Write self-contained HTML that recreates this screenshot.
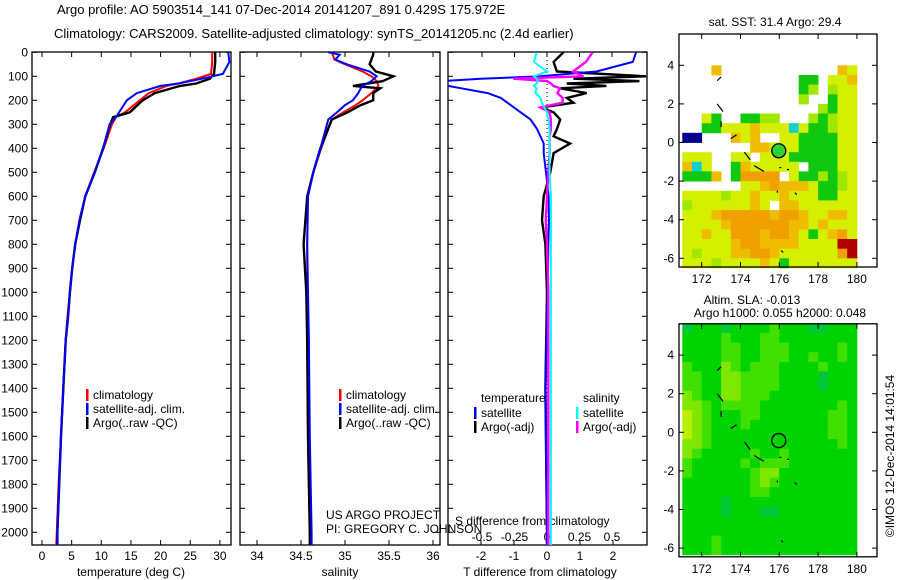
<!DOCTYPE html>
<html><head><meta charset="utf-8"><style>
body{margin:0;background:#fff}
svg{display:block;font-family:"Liberation Sans",sans-serif;font-size:12px}
</style></head><body>
<svg id="s" width="900" height="580" xmlns="http://www.w3.org/2000/svg">
<defs>
<clipPath id="c1"><rect x="32" y="52" width="199" height="493"/></clipPath>
<clipPath id="c2"><rect x="240" y="52" width="200" height="493"/></clipPath>
<clipPath id="c3"><rect x="448" y="52" width="199" height="493"/></clipPath>
</defs>
<text x="57" y="14" font-size="13">Argo profile: AO 5903514_141 07-Dec-2014 20141207_891 0.429S 175.972E</text>
<text x="54" y="38" font-size="13">Climatology: CARS2009. Satellite-adjusted climatology: synTS_20141205.nc (2.4d earlier)</text>
<g id="g"></g>
</svg>
<script>
// ---------- data ----------
const tempDepth = [0,40,90,110,130,140,170,200,250,270,300,400,500,600,700,800,900,1000,1100,1200,1400,1600,1800,2000,2056];
const tempArgo  = [29.2,29.2,29.0,28.3,26,23.3,19,17,14.8,12,11.5,10.3,8.9,7.3,6.4,5.6,5.1,4.7,4.4,4.0,3.6,3.2,2.9,2.6,2.6];
const tempClim  = [28.7,28.7,28.5,26,23,21,18,16.5,14,12.5,11.8,10.4,8.8,7.3,6.3,5.6,5.1,4.7,4.3,4.0,3.6,3.2,2.8,2.5,2.4];
const tempSat   = [31.4,31.6,30.5,27,23,20,16,14.3,13,12.5,11.4,10.3,8.9,7.3,6.3,5.6,5.1,4.7,4.4,4.0,3.6,3.2,2.9,2.6,2.6];

const salDepth = [0,10,30,50,80,100,120,140,150,170,200,220,250,280,400,500,600,800,1000,1200,1600,2000,2056];
const salArgo  = [35.32,35.32,35.30,35.28,35.35,35.55,35.43,35.09,35.40,35.32,35.32,35.18,35.03,34.85,34.72,34.64,34.57,34.53,34.56,34.57,34.58,34.6,34.6];
const salClim  = [34.85,34.86,34.88,35.0,35.2,35.3,35.36,35.38,35.36,35.3,35.2,35.12,34.98,34.85,34.73,34.64,34.58,34.57,34.57,34.57,34.58,34.6,34.62];
const salSat   = [34.81,34.94,34.89,35.02,35.28,35.36,35.3,35.2,35.18,35.15,35.09,35.0,34.91,34.81,34.72,34.64,34.58,34.57,34.58,34.59,34.6,34.62,34.62];

const dDepth = [0,40,80,100,110,120,130,140,150,170,190,210,230,250,280,320,350,380,420,500,600,700,800,1000,1400,2000,2056];
const dTSat  = [2.7,2.6,1.5,-0.2,-2.0,-3.2,-3.2,-3.0,-2.6,-1.8,-1.4,-1.2,-1.0,-0.8,-0.5,-0.3,-0.2,-0.1,-0.1,-0.03,0.05,0.06,0.04,0.02,-0.05,0,0];
const dTArgo = [0.5,0.2,0.3,3.0,0.8,2.8,0.6,1.8,0.4,1.2,0.6,0.8,-0.2,0.2,0.4,0.3,0.2,0.7,0.2,0.1,-0.1,-0.15,-0.05,0,-0.05,0,0];
const dSSat  = [-0.08,-0.1,0.0,-0.1,-0.08,-0.07,-0.08,-0.1,-0.08,-0.09,-0.05,-0.04,-0.02,0,0.01,0.02,0.02,0.02,0.02,0.02,0.03,0.03,0.03,0.03,0.03,0.03,0.03];
const dSArgo = [0.35,0.3,0.2,0.28,-0.26,0.0,0.03,0.05,0.1,0.08,0.12,0.12,-0.05,0.02,0.03,0.03,0.02,0.02,0.02,0.01,0.0,-0.01,0.0,0.01,0.01,0.01,0.01];

const depthTicks = [0,100,200,300,400,500,600,700,800,900,1000,1100,1200,1300,1400,1500,1600,1700,1800,1900,2000];
const tempTicks = [0,5,10,15,20,25,30];
const salTicks = [34,34.5,35,35.5,36];
const dTTicks = [-2,-1,0,1,2];
const dSTicks = [-0.5,-0.25,0,0.25,0.5];
const lonTicks = [172,174,176,178,180];
const latTicks = [4,2,0,-2,-4,-6];

const sstGrid = [
"..................",
"..................",
"..................",
"...o............oy",
"............GG.yyo",
"............Gg.gyy",
"............g..Gyy",
"..............gGyy",
"..yG..GGgg...gGgyy",
"..GGyyyoyyycyGGgyy",
"bb...oyo..yyGGGGyy",
".......ooyyyGGGGyy",
"yyy..yy.yyyGGGGGyy",
"ocy..Goyyyyy.GGGyy",
"GGGo.GOOOO.yGGgGgy",
"......yyoOoooyGGgy",
"yyyygyyoyyoyyyGGyy",
"gyyyyyyoy.ooyyyyyy",
"yyyoOOOOOoOOoyyooy",
"yyyyoOOOOOOooyoyyy",
"yyoyyOOOoOOoyGyoOy",
"yyyyyoOOooooyyyyrr",
"ygyyyooOOoyyyyyyOr",
"yyygyyyyoyGyyyyyyy"];
const slaGrid = [
"baaabaaaacaaabbaaa",
"aaaacaaaccaaaaaaaa",
"aaaaccaacccaaaaaca",
"aaaaccaacccaacaaca",
"caaadcacccaaaacaaa",
"ccaaddccccaaaabaaa",
"ccaaddccccaaaabaaa",
"dcaaddcccaaaaaaaaa",
"ddcaccccaaaaaaaaca",
"edcaaaccaaaaaaacca",
"edcaaacaaaaaaaacca",
"edcaaaaaaaaaaaacca",
"ddcaaaaaaaaaaaaaca",
"dcaaaaacaacaaaaaaa",
"caaaaacacccaaaaaaa",
"caaaaaacddaaaaaaaa",
"aaaaaaacdcaaaaaaaa",
"aaaaaaaccaaaaaaaaa",
"aaaabaaaaaaaaaaaaa",
"aaaabaaabbaaaaaaaa",
"aaaaaaaaaaaaaaaaaa",
"aaaaaaaaaaaaaaaaaa",
"aaacaaaaaaaaaaaaaa",
"aaacaaaaaaaaaaaaaa"];
const argoLon = 175.972, argoLat = -0.429;

// ---------- scales ----------
const yD = d => 52.3 + 0.24*d;
const xT = t => 42 + 5.93*t;
const xS = s => 257 + 88*(s-34);
const xDT = v => 547 + 33*v;
const xDS = v => 547 + 130*v;
const mX = l => 701.7 + 19.4*(l-172);
const mY = (la,off) => 142.5 + off - 19.3*la;

const NS='http://www.w3.org/2000/svg';
const G=document.getElementById('g');
function mk(tag,attrs,parent){const e=document.createElementNS(NS,tag);for(const k in attrs)e.setAttribute(k,attrs[k]);(parent||G).appendChild(e);return e;}
function txt(x,y,s,anchor){const e=mk('text',{x:x,y:y,'text-anchor':anchor||'start'});e.textContent=s;return e;}

function line(xs,ds,xf,color,w,clip,name){
  const pts=xs.map((v,i)=>xf(v).toFixed(1)+','+yD(ds[i]).toFixed(1)).join(' ');
  const e=mk('polyline',{points:pts,fill:'none',stroke:color,'stroke-width':w,'clip-path':'url(#'+clip+')'});
  
  
}

const panels=[[32,231,'c1'],[240,440,'c2'],[448,647,'c3']];
panels.forEach((p,i)=>{
  const r=mk('rect',{x:p[0],y:52,width:p[1]-p[0],height:493,fill:'none',stroke:'#000','stroke-width':1.3});
  
  
});
depthTicks.forEach(d=>{
  const y=yD(d);
  const t=txt(28,y+4,String(d),'end');
  
  
  panels.forEach(p=>{mk('line',{x1:p[0],x2:p[0]+5,y1:y,y2:y,stroke:'#000'});mk('line',{x1:p[1]-5,x2:p[1],y1:y,y2:y,stroke:'#000'});});
});
function xticks(ticks,f,p,labelY,top){
  ticks.forEach(v=>{const x=f(v);
    mk('line',{x1:x,x2:x,y1:545,y2:540,stroke:'#000'});
    if(top!==false) mk('line',{x1:x,x2:x,y1:52,y2:57,stroke:'#000'});
    const t=txt(x,labelY,String(v),'middle');
    
    
  });
}
xticks(tempTicks,xT,panels[0],560);
xticks(salTicks,xS,panels[1],560);
xticks(dTTicks,xDT,panels[2],560,false);
dSTicks.forEach(v=>{const x=xDS(v);mk('line',{x1:x,x2:x,y1:52,y2:57,stroke:'#000'});
  const t=txt(x,541,String(v),'middle');
  
  });
[[131,576,'temperature (deg C)','x-axis-title-temperature'],[340,576,'salinity','x-axis-title-salinity'],[540,576,'T difference from climatology','x-axis-title-t-diff']].forEach(a=>{
  const t=txt(a[0],a[1],a[2],'middle');
  
  
});
{const t=txt(455,525,'S difference from climatology');

}
{const t=txt(326,519,'US ARGO PROJECT');


const t2=txt(326,533,'PI: GREGORY C. JOHNSON');

}

mk('line',{x1:547,x2:547,y1:52,y2:545,stroke:'#000','stroke-dasharray':'1,3'});

line(tempClim,tempDepth,xT,'#f00',2,'c1','temp-climatology-line');
line(tempArgo,tempDepth,xT,'#000',2.4,'c1','temp-argo-line');
line(tempSat,tempDepth,xT,'#00f',2,'c1','temp-satellite-line');
line(salClim,salDepth,xS,'#f00',2,'c2','sal-climatology-line');
line(salArgo,salDepth,xS,'#000',2.4,'c2','sal-argo-line');
line(salSat,salDepth,xS,'#00f',2,'c2','sal-satellite-line');
line(dTArgo,dDepth,xDT,'#000',2.4,'c3','tdiff-argo-line');
line(dTSat,dDepth,xDT,'#00f',2,'c3','tdiff-satellite-line');
line(dSArgo,dDepth,xDS,'#f0f',2.4,'c3','sdiff-argo-line');
line(dSSat,dDepth,xDS,'#0ff',2,'c3','sdiff-satellite-line');

function leg(x,y,color,label,name){
  mk('rect',{x:x,y:y-9,width:2.5,height:12,fill:color});
  const t=txt(x+7,y+1,label);
  
  
}
leg(86,398,'#f00','climatology','legend-entry-climatology');
leg(86,412,'#00f','satellite-adj. clim.','legend-entry-satellite');
leg(86,426,'#000','Argo(..raw -QC)','legend-entry-argo');
leg(339,398,'#f00','climatology','legend-entry-climatology-2');
leg(339,412,'#00f','satellite-adj. clim.','legend-entry-satellite-2');
leg(339,426,'#000','Argo(..raw -QC)','legend-entry-argo-2');
{const t=txt(481,402,'temperature');}
{const t=txt(583,402,'salinity');}
leg(474,416,'#00f','satellite','legend-entry-t-satellite');
leg(474,430,'#000','Argo(-adj)','legend-entry-t-argo');
leg(576,416,'#0ff','satellite','legend-entry-s-satellite');
leg(576,430,'#f0f','Argo(-adj)','legend-entry-s-argo');

const sstCol={y:'#d4f000',Y:'#f0d000',o:'#f0bc00',O:'#f0a000',g:'#a0e800',G:'#10c810',c:'#10d0d0',b:'#000090',r:'#b00000'};
const slaCol={a:'#00d400',b:'#00c838',c:'#40e000',d:'#80e800',e:'#b8f000'};
function map(grid,cols,off,name,latTop){
  grid.forEach((row,j)=>{
    for(let i=0;i<row.length;i++){const ch=row[i]; if(ch==='.')continue;
      const x0=mX(171+0.5*i), x1=mX(171.5+0.5*i), y0=mY(latTop-0.5*j,off), y1=mY(latTop-0.5*(j+1),off);
      const r=mk('rect',{x:x0.toFixed(1),y:y0.toFixed(1),width:(x1-x0+0.4).toFixed(1),height:(y1-y0+0.4).toFixed(1),fill:cols[ch]});
      
      
    }
  });
  const isl=[[172.8,3.2,173,3.4],[172.8,2,173.1,1.6],[173,1.1,173,0.8],[173.5,0.2,173.8,0.4],[174.2,-0.5,174.5,-0.9],[174.7,-1.2,175.2,-1.5],[176,-1.3,176.1,-1.3],[176.4,-1.4,176.5,-1.4],[175.9,-2.5,175.9,-2.6],[176.8,-2.6,176.9,-2.7],[176.1,-5.6,176.2,-5.7]];
  isl.forEach(s=>mk('line',{x1:mX(s[0]),y1:mY(s[1],off),x2:mX(s[2]),y2:mY(s[3],off),stroke:'#000','stroke-width':1.2}));
  const c=mk('circle',{cx:mX(argoLon),cy:mY(argoLat,off),r:7,fill:off===0?'#30d030':'none',stroke:'#000','stroke-width':1.3});
  
  
  const f=mk('rect',{x:679,y:34+off,width:198,height:233,fill:'none',stroke:'#000','stroke-width':1.3});
  
  
  lonTicks.forEach(l=>{const x=mX(l);mk('line',{x1:x,x2:x,y1:34+off,y2:39+off,stroke:'#000'});mk('line',{x1:x,x2:x,y1:262+off,y2:267+off,stroke:'#000'});
    const t=txt(x,283+off,String(l),'middle');});
  latTicks.forEach(la=>{const y=mY(la,off);mk('line',{x1:679,x2:684,y1:y,y2:y,stroke:'#000'});mk('line',{x1:872,x2:877,y1:y,y2:y,stroke:'#000'});
    const t=txt(674,y+4,String(la),'end');});
}
map(sstGrid,sstCol,0,'sst-map',5.5);
map(slaGrid,slaCol,289.8,'sla-map',5.65);
{const t=txt(775,26,'sat. SST: 31.4 Argo: 29.4','middle');}
{const t=txt(752,304,'Altim. SLA: -0.013','middle');}
{const t=txt(780,317,'Argo h1000: 0.055 h2000: 0.048','middle');}
{const t=txt(0,0,'©IMOS 12-Dec-2014 14:01:54','middle');t.setAttribute('transform','translate(894,456) rotate(-90)');}
</script>
</body></html>
